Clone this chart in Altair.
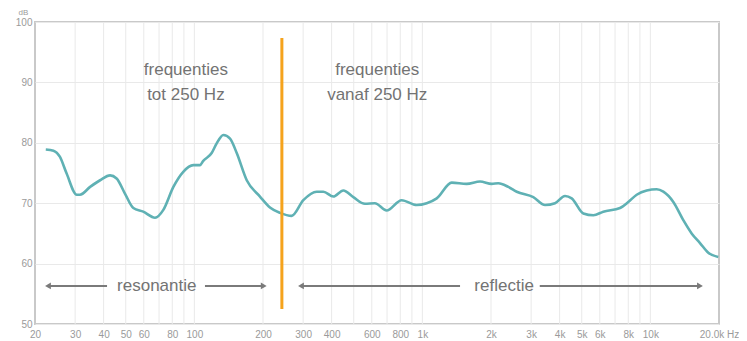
import altair as alt
import pandas as pd

# frequency response curve (Hz, dB)
freq = [22.3, 24.1, 25.7, 27.5, 30.5, 31.5, 34.9, 38.6, 42.7, 45.6, 49.6, 54.0, 59.7, 67.2, 73.1,
        80.9, 89.4, 98.9, 105.9, 109.4, 119.1, 125.3, 134.0, 143.4, 153.4, 169.7, 194, 214.6, 237.5,
        267, 300.6, 344, 368, 407, 450, 498, 560, 619, 697, 811, 944, 1045, 1156, 1345, 1564, 1790,
        2014, 2154, 2382, 2594, 3066, 3452, 3818, 4224, 4518, 5082, 5622, 6218, 7362, 8000, 8710,
        9638, 10664, 11400, 12610, 13944, 15172, 16508, 17950, 19860]
db = [78.9, 78.7, 77.7, 74.95, 71.4, 71.4, 72.7, 73.8, 74.6, 74.1, 71.6, 69.2, 68.6, 67.6, 68.9,
      72.7, 75.2, 76.3, 76.3, 77.0, 78.3, 79.9, 81.3, 80.7, 78.3, 73.8, 71.1, 69.3, 68.4,
      67.9, 70.5, 71.9, 71.9, 71.1, 72.1, 71.0, 69.9, 70.0, 68.8, 70.5, 69.7, 70.0, 70.8, 73.4, 73.2, 73.6,
      73.2, 73.3, 72.7, 71.9, 71.0, 69.7, 70.0, 71.2, 70.8, 68.3, 68.0, 68.6, 69.2, 70.2, 71.4,
      72.1, 72.3, 71.9, 70.2, 67.2, 65.0, 63.4, 61.8, 61.1]

# axis ticks and grid
x_tick_values = [20, 30, 40, 50, 60, 80, 100, 200, 300, 400, 600, 800, 1000, 2000, 3000, 4000,
                 5000, 6000, 8000, 10000, 20000]
x_grid_values = [30, 40, 50, 60, 70, 80, 90, 100, 200, 300, 400, 500, 600, 700, 800, 900,
                 1000, 2000, 3000, 4000, 5000, 6000, 7000, 8000, 9000, 10000]
y_tick_values = [50, 60, 70, 80, 90, 100]

# divider at ~250 Hz
divider_freq = [242]
divider_top = [97.35]
divider_bottom = [52.5]

# region labels
label_text = ["frequenties", "tot 250 Hz", "frequenties", "vanaf 250 Hz", "resonantie", "reflectie"]
label_freq = [91.8, 91.8, 634, 634, 68.4, 2283]
label_db = [92.05, 87.9, 92.05, 87.9, 56.3, 56.3]

# arrows (segments) and heads
seg_start = [22.8, 111.3, 293.5, 3272]
seg_end = [41.4, 201.5, 1463, 16507]
seg_db = [56.3, 56.3, 56.3, 56.3]
head_freq = [22.8, 201.5, 293.5, 16507]
head_db = [56.3, 56.3, 56.3, 56.3]
head_dir = ["left", "right", "left", "right"]

curve_df = pd.DataFrame({"freq": freq, "db": db})
grid_df = pd.DataFrame({"freq": x_grid_values})
div_df = pd.DataFrame({"freq": divider_freq, "top": divider_top, "bottom": divider_bottom})
lab_df = pd.DataFrame({"freq": label_freq, "db": label_db, "text": label_text})
seg_df = pd.DataFrame({"start": seg_start, "end": seg_end, "db": seg_db})
head_df = pd.DataFrame({"freq": head_freq, "db": head_db, "dir": head_dir})

xscale = alt.Scale(type="log", domain=[20, 20000], nice=False)
yscale = alt.Scale(domain=[50, 100], nice=False)

label_expr = ("datum.value >= 20000 ? '20.0k Hz' : (datum.value >= 1000 ? "
              "(datum.value / 1000) + 'k' : '' + datum.value)")

x_axis = alt.Axis(values=x_tick_values, labelExpr=label_expr, grid=False, ticks=False,
                  domain=False, labelColor="#9a9a9a", labelFontSize=10,
                  labelFont="Liberation Sans", labelPadding=5, labelFlush=False,
                  labelOverlap=False, title=None)
y_axis = alt.Axis(values=y_tick_values, grid=True, gridColor="#e9e9e9", ticks=False,
                  domain=False, labelColor="#9a9a9a", labelFontSize=10,
                  labelFont="Liberation Sans", labelPadding=3,
                  titleAngle=0, titleX=-12, titleY=-8, titleAlign="center",
                  titleBaseline="alphabetic", titleFontSize=8, titleFontWeight="normal",
                  titleColor="#9a9a9a", titleFont="Liberation Sans")

grid = alt.Chart(grid_df).mark_rule(color="#e9e9e9", strokeWidth=1).encode(
    x=alt.X("freq:Q", scale=xscale, axis=x_axis, title=None)
)

curve = alt.Chart(curve_df).mark_line(color="#5fb1b4", strokeWidth=2.6, interpolate="monotone").encode(
    x=alt.X("freq:Q", scale=xscale, axis=x_axis, title=None),
    y=alt.Y("db:Q", scale=yscale, title="dB", axis=y_axis),
)

divider = alt.Chart(div_df).mark_rule(color="#f5a31c", strokeWidth=3).encode(
    x=alt.X("freq:Q", scale=xscale),
    y=alt.Y("top:Q", scale=yscale),
    y2="bottom:Q",
)

labels = alt.Chart(lab_df).mark_text(fontSize=17, font="Liberation Sans", color="#737373",
                                     baseline="middle", align="center").encode(
    x=alt.X("freq:Q", scale=xscale),
    y=alt.Y("db:Q", scale=yscale),
    text="text:N",
)

segs = alt.Chart(seg_df).mark_rule(color="#7a7a7a", strokeWidth=2).encode(
    x=alt.X("start:Q", scale=xscale),
    x2="end:Q",
    y=alt.Y("db:Q", scale=yscale),
)

heads = alt.Chart(head_df).mark_point(filled=True, opacity=1, color="#7a7a7a", size=45).encode(
    x=alt.X("freq:Q", scale=xscale),
    y=alt.Y("db:Q", scale=yscale),
    shape=alt.Shape("dir:N", scale=alt.Scale(domain=["left", "right"],
                                             range=["triangle-left", "triangle-right"]),
                    legend=None),
)

chart = alt.layer(grid, curve, divider, segs, heads, labels).properties(
    width=684, height=302,
    autosize=alt.AutoSizeParams(type="none"),
    padding={"left": 27, "top": 14, "right": 20, "bottom": 17},
).configure(
    background="white",
    view=alt.ViewConfig(stroke="#c9c9c9", strokeWidth=2),
)

chart.save("out.html", embed_options={"renderer": "svg", "actions": False})
